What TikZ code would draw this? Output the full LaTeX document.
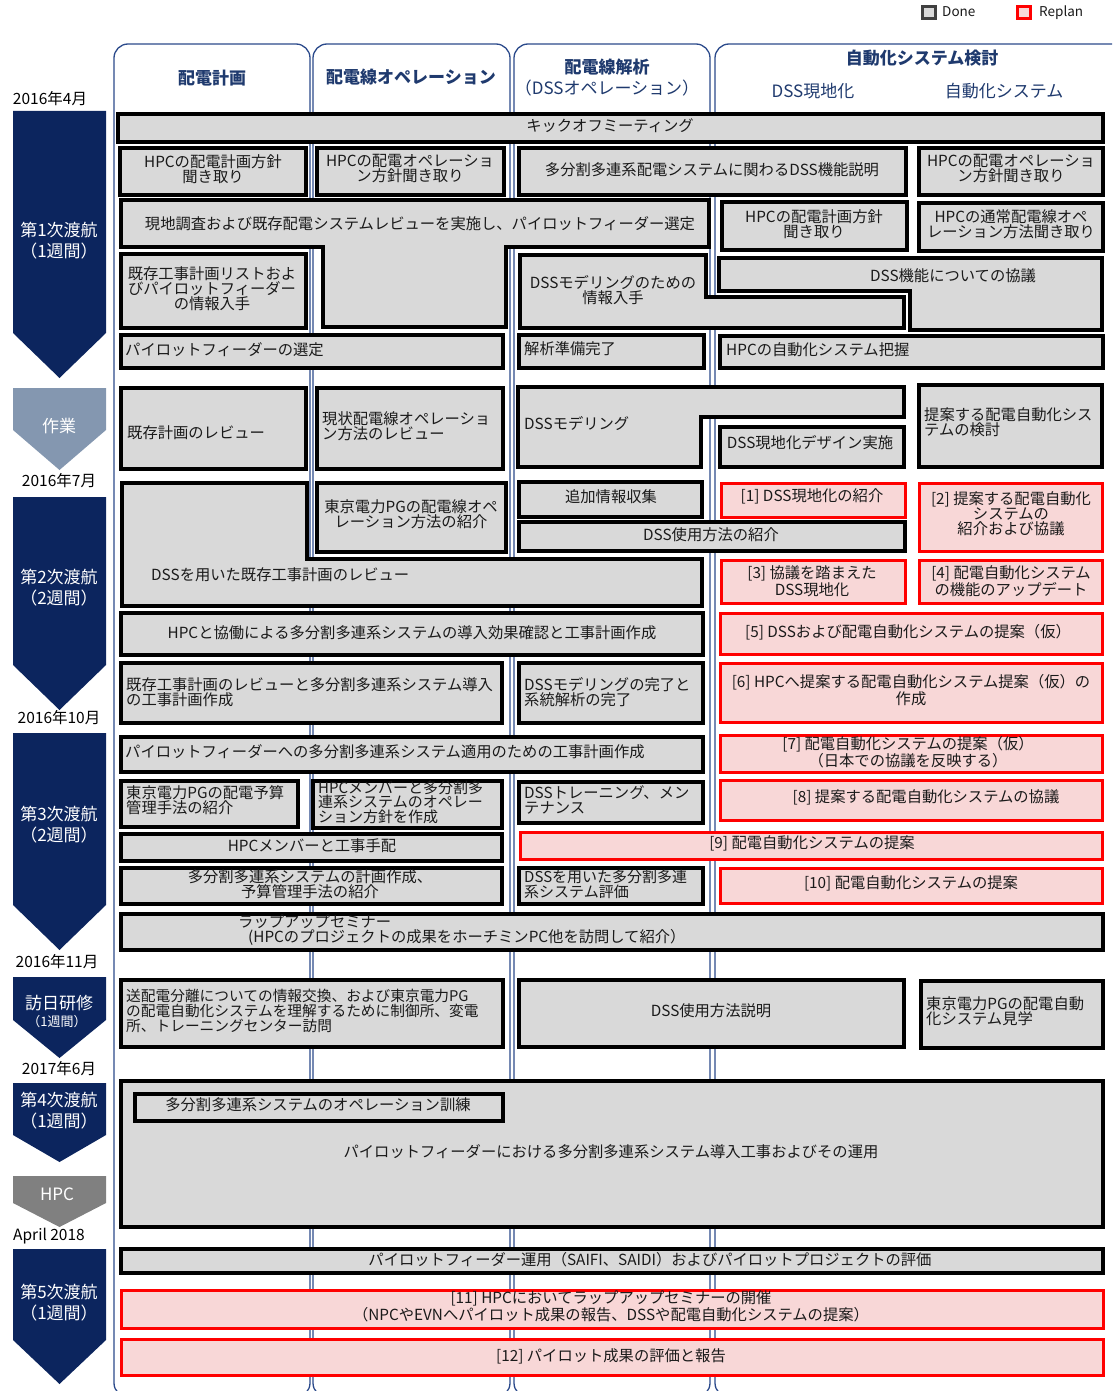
\documentclass[tikz,border=0pt]{standalone}
\usepackage{fontspec}
\setmainfont{Noto Sans CJK JP}
\definecolor{navy}{HTML}{0C255E}
\definecolor{hdrc}{HTML}{1F3A6E}
\definecolor{framec}{HTML}{2B4A8B}
\definecolor{boxgray}{HTML}{D9D9D9}
\definecolor{boxpink}{HTML}{F8D7D7}
\definecolor{boxred}{HTML}{FF0000}
\definecolor{workc}{HTML}{8497B0}
\definecolor{hpcc}{HTML}{808080}
\definecolor{txtc}{HTML}{1A1A1A}
\definecolor{lgdark}{HTML}{404040}
\begin{document}
\begin{tikzpicture}[x=1pt,y=-1pt,
 done/.style={fill=boxgray,draw=black,line width=3.5pt},
 replan/.style={fill=boxpink,draw=boxred,line width=3pt},
 txt/.style={font=\fontsize{15.3}{15}\selectfont,align=center,inner sep=0pt,text=txtc},
 ltxt/.style={txt,align=left,anchor=west},
 frame/.style={draw=framec,line width=1.3pt,rounded corners=14pt},
 clbl/.style={font=\fontsize{17}{21}\selectfont,text=white,align=center,inner sep=0pt},
 datel/.style={font=\fontsize{15.5}{16}\selectfont,inner sep=0pt,text=black},
 hdr/.style={font=\fontsize{17}{20}\selectfont\bfseries,text=hdrc,inner sep=0pt},
 subh/.style={font=\fontsize{17}{20}\selectfont,text=hdrc,inner sep=0pt},
 lg/.style={font=\fontsize{13.5}{14}\selectfont,inner sep=0pt,anchor=west,text=txtc}]

\path[use as bounding box] (0,0) rectangle (1112,1391);

% column frames
\begin{scope}
\clip (0,0) rectangle (1112,1391);
\draw[frame] (114,1397) -- (114,44) -- (310,44) -- (310,1397) -- cycle;
\draw[frame] (313,1397) -- (313,44) -- (510,44) -- (510,1397) -- cycle;
\draw[frame] (514,1397) -- (514,44) -- (710,44) -- (710,1397) -- cycle;
\draw[frame] (715,1397) -- (715,44) -- (1135,44) -- (1135,1397) -- cycle;
\end{scope}

% headers
\node[hdr] (h1) at (212,78) {配電計画};
\node[hdr] (h2) at (411,77) {配電線オペレーション};
\node[hdr] (h3) at (607,67) {配電線解析};
\node[subh] (h3b) at (607,88) {（DSSオペレーション）};
\node[hdr] (h4) at (922,58) {自動化システム検討};
\node[subh] (h4a) at (813,91) {DSS現地化};
\node[subh] (h4b) at (1004,91) {自動化システム};

% legend
\draw[fill=boxgray,draw=lgdark,line width=3pt] (922,7) rectangle (935,19);
\node[lg] (lgd) at (942,12) {Done};
\draw[fill=boxpink,draw=boxred,line width=3pt] (1017,7) rectangle (1030,19);
\node[lg] (lgr) at (1039,13) {Replan};

% timeline chevrons
\fill[navy] (13,111) -- (106,111) -- (106,333) -- (59.5,378) -- (13,333) -- cycle;
\node[clbl] (c1) at (59,241) {第1次渡航\\（1週間）};
\fill[workc] (13,388) -- (106,388) -- (106,430) -- (59.5,470) -- (13,430) -- cycle;
\node[clbl] (cw) at (59,426) {作業};
\fill[navy] (13,497) -- (106,497) -- (106,665) -- (59.5,710) -- (13,665) -- cycle;
\node[clbl] (c2) at (59,588) {第2次渡航\\（2週間）};
\fill[navy] (13,733) -- (106,733) -- (106,905) -- (59.5,950) -- (13,905) -- cycle;
\node[clbl] (c3) at (59,825) {第3次渡航\\（2週間）};
\fill[navy] (13,977) -- (106,977) -- (106,1020) -- (59.5,1058) -- (13,1020) -- cycle;
\node[clbl] (cj) at (59,1003) {訪日研修};
\node[clbl,font=\fontsize{13}{14}\selectfont] (cj2) at (57,1022) {（1週間）};
\fill[navy] (13,1083) -- (106,1083) -- (106,1135) -- (59.5,1162) -- (13,1135) -- cycle;
\node[clbl] (c4) at (59,1111) {第4次渡航\\（1週間）};
\fill[hpcc] (13,1176) -- (106,1176) -- (106,1203) -- (59.5,1227) -- (13,1203) -- cycle;
\node[clbl] (ch) at (57,1194) {HPC};
\fill[navy] (13,1249) -- (106,1249) -- (106,1340) -- (59.5,1384) -- (13,1340) -- cycle;
\node[clbl] (c5) at (59,1303) {第5次渡航\\（1週間）};

% dates
\node[datel] (d1) at (50,99) {2016年4月};
\node[datel] (d2) at (59,481) {2016年7月};
\node[datel] (d3) at (59,718) {2016年10月};
\node[datel] (d4) at (57,962) {2016年11月};
\node[datel] (d5) at (59,1069) {2017年6月};
\node[datel] (d6) at (49,1236) {April 2018};

% Row 1
\draw[done] (118,114) rectangle (1103,142);
\node[txt] (kick) at (610,126) {キックオフミーティング};

% Row 2
\draw[done] (120,148) rectangle (306,195);
\node[txt] (r2a) at (213,169) {HPCの配電計画方針\\聞き取り};
\draw[done] (317,148) rectangle (504,195);
\node[txt] (r2b) at (410,169) {HPCの配電オペレーショ\\ン方針聞き取り};
\draw[done] (519,148) rectangle (906,195);
\node[txt] (r2c) at (712,170) {多分割多連系配電システムに関わるDSS機能説明};
\draw[done] (919,148) rectangle (1103,195);
\node[txt] (r2d) at (1011,169) {HPCの配電オペレーショ\\ン方針聞き取り};

% Row 3
\draw[done] (121,200) -- (709,200) -- (709,247) -- (506,247) -- (506,327) -- (323,327) -- (323,247) -- (121,247) -- cycle;
\node[txt] (r3a) at (420,224) {現地調査および既存配電システムレビューを実施し、パイロットフィーダー選定};
\draw[done] (722,202) rectangle (907,250);
\node[txt] (r3b) at (814,224) {HPCの配電計画方針\\聞き取り};
\draw[done] (919,203) rectangle (1103,251);
\node[txt] (r3c) at (1011,224) {HPCの通常配電線オペ\\レーション方法聞き取り};

% Row 4
\draw[done] (121,254) rectangle (306,328);
\node[txt] (r4a) at (212,289) {既存工事計画リストおよ\\びパイロットフィーダー\\の情報入手};
\draw[done] (520,255) -- (706,255) -- (706,297) -- (904,297) -- (904,328) -- (520,328) -- cycle;
\node[txt] (r4b) at (613,290) {DSSモデリングのための\\情報入手};
\draw[done] (719,258) -- (1102,258) -- (1102,330) -- (910,330) -- (910,291) -- (719,291) -- cycle;
\node[txt] (r4c) at (953,276) {DSS機能についての協議};

% Row 5
\draw[done] (121,335) rectangle (503,368);
\node[ltxt] (r5a) at (125,350) {パイロットフィーダーの選定};
\draw[done] (519,335) rectangle (704,368);
\node[ltxt] (r5b) at (524,349) {解析準備完了};
\draw[done] (720,336) rectangle (1103,368);
\node[ltxt] (r5c) at (726,350) {HPCの自動化システム把握};

% Row 6
\draw[done] (121,388) rectangle (306,469);
\node[ltxt] (r6a) at (127,433) {既存計画のレビュー};
\draw[done] (317,388) rectangle (503,469);
\node[ltxt] (r6b) at (322,426) {現状配電線オペレーショ\\ン方法のレビュー};
\draw[done] (518,387) -- (904,387) -- (904,417) -- (701,417) -- (701,467) -- (518,467) -- cycle;
\node[ltxt] (r6c) at (524,424) {DSSモデリング};
\draw[done] (720,427) rectangle (904,467);
\node[txt] (r6d) at (810,443) {DSS現地化デザイン実施};
\draw[done] (919,385) rectangle (1102,467);
\node[ltxt] (r6e) at (924,422) {提案する配電自動化シス\\テムの検討};

% Row 7
\draw[done] (122,483) -- (307,483) -- (307,559) -- (702,559) -- (702,606) -- (122,606) -- cycle;
\node[ltxt] (r7a) at (151,575) {DSSを用いた既存工事計画のレビュー};
\draw[done] (317,483) rectangle (506,552);
\node[txt] (r7b) at (411,514) {東京電力PGの配電線オペ\\レーション方法の紹介};
\draw[done] (519,482) rectangle (702,517);
\node[txt] (r7c) at (611,497) {追加情報収集};
\draw[done] (519,522) rectangle (905,551);
\node[txt] (r7d) at (711,535) {DSS使用方法の紹介};
\draw[replan] (721,483) rectangle (905,517);
\node[txt] (p1) at (812,496) {[1] DSS現地化の紹介};
\draw[replan] (919,483) rectangle (1102,551);
\node[txt] (p2) at (1011,514) {[2] 提案する配電自動化\\システムの\\紹介および協議};
\draw[replan] (721,560) rectangle (905,603);
\node[txt] (p3) at (812,581) {[3] 協議を踏まえた\\DSS現地化};
\draw[replan] (919,560) rectangle (1102,603);
\node[txt] (p4) at (1011,581) {[4] 配電自動化システム\\の機能のアップデート};

% Row 8
\draw[done] (121,613) rectangle (703,655);
\node[txt] (r8a) at (412,633) {HPCと協働による多分割多連系システムの導入効果確認と工事計画作成};
\draw[replan] (720,613) rectangle (1102,654);
\node[txt] (p5) at (908,632) {[5] DSSおよび配電自動化システムの提案（仮）};

% Row 9
\draw[done] (121,663) rectangle (502,723);
\node[ltxt] (r9a) at (126,692) {既存工事計画のレビューと多分割多連系システム導入\\の工事計画作成};
\draw[done] (519,663) rectangle (703,723);
\node[ltxt] (r9b) at (524,692) {DSSモデリングの完了と\\系統解析の完了};
\draw[replan] (720,663) rectangle (1102,722);
\node[txt] (p6) at (911,690) {[6] HPCへ提案する配電自動化システム提案（仮）の\\作成};

% Row 10
\draw[done] (121,737) rectangle (703,772);
\node[ltxt] (r10a) at (125,752) {パイロットフィーダーへの多分割多連系システム適用のための工事計画作成};
\draw[replan] (720,735) rectangle (1102,772);
\node[txt,font=\fontsize{15.3}{14}\selectfont] (p7) at (908,752) {[7] 配電自動化システムの提案（仮）\\（日本での協議を反映する）};

% Row 11
\draw[done] (121,781) rectangle (298,827);
\node[ltxt] (r11a) at (126,800) {東京電力PGの配電予算\\管理手法の紹介};
\draw[done] (313,781) rectangle (502,828);
\node[ltxt,font=\fontsize{15}{14.5}\selectfont] (r11b) at (318,802) {HPCメンバーと多分割多\\連系システムのオペレー\\ション方針を作成};
\draw[done] (519,782) rectangle (703,823);
\node[ltxt] (r11c) at (524,800) {DSSトレーニング、メン\\テナンス};
\draw[replan] (720,780) rectangle (1102,820);
\node[txt] (p8) at (926,797) {[8] 提案する配電自動化システムの協議};

% Row 12
\draw[done] (121,834) rectangle (502,861);
\node[txt] (r12a) at (312,846) {HPCメンバーと工事手配};
\draw[replan] (520,832) rectangle (1102,859);
\node[txt] (p9) at (812,843) {[9] 配電自動化システムの提案};

% Row 13
\draw[done] (121,868) rectangle (502,904);
\node[txt] (r13a) at (310,884) {多分割多連系システムの計画作成、\\予算管理手法の紹介};
\draw[done] (519,868) rectangle (703,904);
\node[ltxt,font=\fontsize{15}{15}\selectfont] (r13b) at (524,884) {DSSを用いた多分割多連\\系システム評価};
\draw[replan] (720,868) rectangle (1102,903);
\node[txt] (p10) at (911,883) {[10] 配電自動化システムの提案};

% Row 14
\draw[done] (121,914) rectangle (1103,950);
\node[ltxt] (r14) at (238,930) {ラップアップセミナー\\\hspace*{10pt}(HPCのプロジェクトの成果をホーチミンPC他を訪問して紹介）};

% Row 15
\draw[done] (121,980) rectangle (503,1047);
\node[ltxt,font=\fontsize{14.7}{15}\selectfont] (r15a) at (126,1011) {送配電分離についての情報交換、および東京電力PG\\の配電自動化システムを理解するために制御所、変電\\所、トレーニングセンター訪問};
\draw[done] (519,980) rectangle (904,1047);
\node[txt] (r15b) at (711,1011) {DSS使用方法説明};
\draw[done] (921,981) rectangle (1103,1048);
\node[ltxt] (r15c) at (926,1011) {東京電力PGの配電自動\\化システム見学};

% Row 16
\draw[done] (121,1081) rectangle (1103,1227);
\node[txt] (r16a) at (611,1152) {パイロットフィーダーにおける多分割多連系システム導入工事およびその運用};
\draw[done] (135,1094) rectangle (503,1121);
\node[txt] (r16b) at (318,1105) {多分割多連系システムのオペレーション訓練};

% Row 17
\draw[done] (121,1249) rectangle (1103,1273);
\node[txt] (r17) at (650,1260) {パイロットフィーダー運用（SAIFI、SAIDI）およびパイロットプロジェクトの評価};

% Row 18
\draw[replan] (121,1290) rectangle (1103,1328);
\node[txt] (p11) at (611,1306) {[11] HPCにおいてラップアップセミナーの開催\\（NPCやEVNへパイロット成果の報告、DSSや配電自動化システムの提案）};

% Row 19
\draw[replan] (121,1339) rectangle (1103,1375);
\node[txt] (p12) at (611,1356) {[12] パイロット成果の評価と報告};
\end{tikzpicture}
\end{document}
